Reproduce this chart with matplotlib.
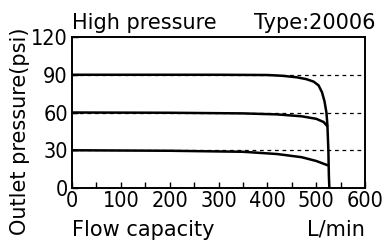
import matplotlib
matplotlib.use('Agg')
import matplotlib.pyplot as plt
from matplotlib.ticker import MultipleLocator

# curve data (L/min, psi)
flow_90 = [0, 300, 400, 430, 460, 480, 495, 505, 512, 517, 521, 523, 525, 526, 527]
psi_90 = [90, 90, 89.8, 89.2, 88, 86.5, 84.5, 81.5, 76, 69, 60, 50, 30, 10, 0]
flow_60 = [0, 200, 350, 420, 470, 500, 515, 522]
psi_60 = [60, 59.8, 59.3, 58.5, 57, 55, 52.5, 49.5]
flow_30 = [0, 200, 350, 420, 470, 500, 522]
psi_30 = [30, 29.6, 28.8, 27, 24.5, 21.5, 18.3]
set_points = [30, 60, 90]

# condensed digits for the tick labels
plt.rcParams['font.stretch'] = 'condensed'
plt.rcParams['font.family'] = 'DejaVu Sans'

fig = plt.figure(figsize=(3.82, 2.43), dpi=100)
ax = fig.add_axes([0.1885, 0.2263, 0.767, 0.6214])

for p in set_points:
  ax.axhline(p, color='black', lw=0.9, ls=(0, (3, 3)))
ax.plot(flow_90, psi_90, color='black', lw=1.8)
ax.plot(flow_60, psi_60, color='black', lw=1.8)
ax.plot(flow_30, psi_30, color='black', lw=1.8)

ax.set_xlim(0, 600)
ax.set_ylim(0, 120)
ax.xaxis.set_major_locator(MultipleLocator(100))
ax.xaxis.set_minor_locator(MultipleLocator(50))
ax.yaxis.set_major_locator(MultipleLocator(30))
ax.tick_params(which='both', direction='in', length=4, width=1, labelsize=15.5)
ax.tick_params(axis='x', pad=2)
ax.tick_params(axis='y', pad=3)
for s in ax.spines.values():
  s.set_linewidth(1.4)

tkw = dict(transform=ax.transAxes, fontsize=15, fontstretch='normal')
ax.text(0, 1.025, 'High pressure', va='bottom', ha='left', **tkw)
ax.text(1.035, 1.025, 'Type:20006', va='bottom', ha='right', **tkw)
ax.text(0, -0.21, 'Flow capacity', va='top', ha='left', **tkw)
ax.text(1, -0.21, 'L/min', va='top', ha='right', **tkw)
fig.text(20 / 382, 1 - 131 / 243, 'Outlet pressure(psi)', fontsize=15, fontstretch='normal',
         rotation=90, ha='center', va='center')

fig.savefig('out.png', dpi=100)
